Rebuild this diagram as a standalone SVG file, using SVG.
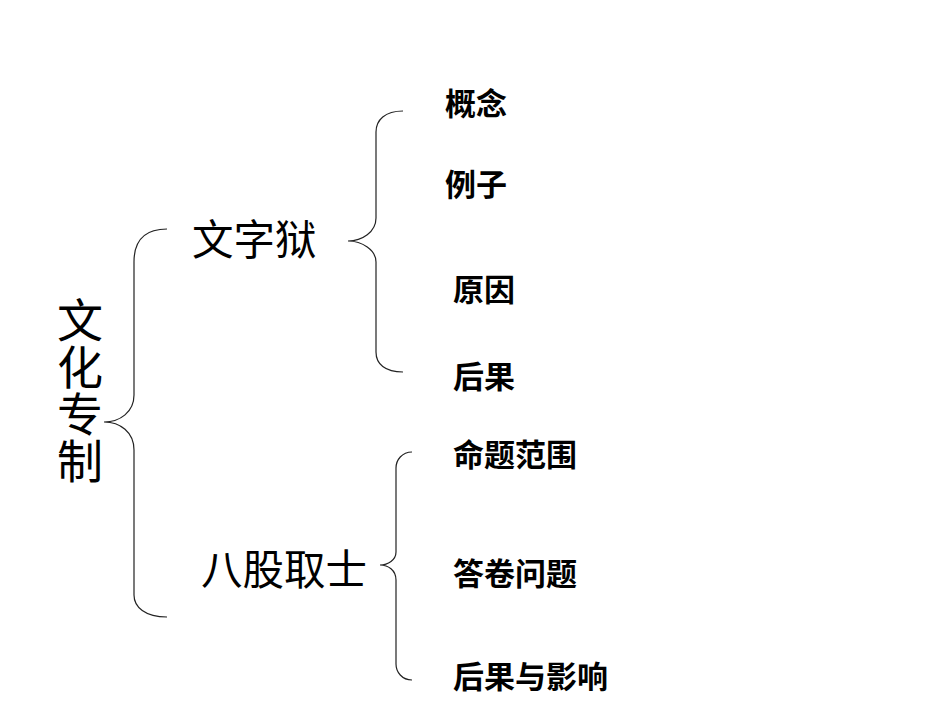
<svg xmlns="http://www.w3.org/2000/svg" width="950" height="713" viewBox="0 0 950 713">
<style>
text { font-family: "Noto Sans CJK SC", "Noto Sans", sans-serif; fill: #000; }
.root { font-size: 46px; }
.mid { font-size: 41.5px; }
.leaf { font-size: 31px; font-weight: bold; }
.brace { fill: none; stroke: #222; stroke-width: 1.2; }
</style>
<rect width="950" height="713" fill="#fff"/>
<g id="connectors">
<path class="brace" d="M167,229 C145,229 134,240 134,262 L134,395 C134,412 120,422 104,422 C120,422 134,432 134,450 L134,595 C134,607 145,617 167,617"/>
<path class="brace" d="M403,111 C385,111 376,120 376,132 L376,218 C376,232 362,241 348,241 C362,241 376,250 376,262 L376,352 C376,364 385,372 403,372"/>
<path class="brace" d="M412,452 C402,452 396,460 396,468 L396,552 C396,560 388,565 380,565 C388,565 396,570 396,580 L396,664 C396,672 402,680 412,680"/>
</g>
<g id="root">
<text class="root" x="80" y="297" writing-mode="vertical-rl" letter-spacing="1">文化专制</text>
</g>
<g id="wenziyu"><text class="mid" x="192" y="255">文字狱</text></g>
<g id="baguqushi"><text class="mid" x="201" y="585">八股取士</text></g>
<g id="gainian"><text class="leaf" x="445" y="115">概念</text></g>
<g id="lizi"><text class="leaf" x="445" y="196">例子</text></g>
<g id="yuanyin"><text class="leaf" x="453" y="301">原因</text></g>
<g id="houguo"><text class="leaf" x="453" y="388">后果</text></g>
<g id="mingti"><text class="leaf" x="453" y="466">命题范围</text></g>
<g id="dajuan"><text class="leaf" x="453" y="585">答卷问题</text></g>
<g id="yingxiang"><text class="leaf" x="453" y="688">后果与影响</text></g>
</svg>
